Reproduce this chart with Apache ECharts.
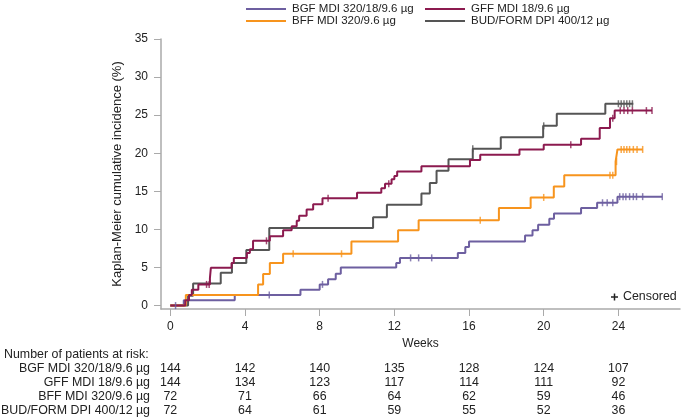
<!DOCTYPE html>
<html>
<head>
<meta charset="utf-8">
<script src="https://cdn.jsdelivr.net/npm/echarts@6/dist/echarts.min.js"></script>
<style>
  html, body { margin: 0; padding: 0; background: #fff; }
  #chart { width: 685px; height: 419px; }
</style>
</head>
<body>
<div id="chart"></div>
<script>
// series names (legend order)
const names = ['BGF MDI 320/18/9.6 µg', 'GFF MDI 18/9.6 µg', 'BFF MDI 320/9.6 µg', 'BUD/FORM DPI 400/12 µg']

// Kaplan-Meier steps: [week, cumulative incidence %]
const bgfSteps = [[0,0],[0.72,0.69],[3.45,1.39],[6.97,2.08],[8.0,2.78],[8.45,3.47],[8.86,4.17],[9.13,5.0],[12.1,5.6],[12.3,6.26],[15.4,6.9],[15.8,7.7],[16.0,8.4],[19.0,9.2],[19.4,9.9],[19.7,10.6],[20.3,11.4],[20.55,12.1],[22.0,12.8],[22.86,13.5],[23.95,14.3],[26.35,14.3]]
const gffSteps = [[0,0],[0.8,0.69],[1.0,1.39],[1.15,2.08],[1.5,2.78],[2.12,3.6],[2.17,4.95],[3.28,5.6],[3.4,6.26],[4.1,6.9],[4.26,7.4],[4.43,8.5],[5.33,9.1],[6.04,9.9],[6.5,10.4],[6.77,11.15],[6.9,11.8],[7.3,12.6],[7.65,13.3],[8.15,14.1],[10.0,14.8],[11.3,15.4],[11.5,16.0],[11.85,16.6],[12.0,17.0],[12.15,17.6],[13.45,18.3],[16.05,19.1],[16.6,19.8],[18.7,20.5],[20.0,21.1],[22.0,21.9],[23.0,23.3],[23.55,24.6],[23.8,25.6],[25.8,25.6]]
const bffSteps = [[0,0],[0.83,1.39],[4.7,2.78],[4.97,4.16],[5.33,5.6],[6.04,6.8],[9.7,8.4],[12.2,9.9],[13.3,11.2],[17.6,12.8],[19.3,14.2],[20.54,15.65],[21.1,17.1],[23.85,18.9],[23.95,20.5],[25.3,20.5]]
const budSteps = [[0,0],[0.95,1.3],[1.22,2.9],[2.7,4.3],[3.3,5.6],[4.07,7.3],[5.3,10.2],[10.86,11.6],[11.6,13.25],[13.45,14.7],[13.9,16.1],[14.26,17.7],[14.9,19.2],[16.2,20.6],[17.7,22.1],[19.97,23.6],[20.7,25.2],[23.3,26.5],[24.8,26.5]]

// censored observations: [week, %]
const bgfCens = [[0.28,0],[5.3,1.39],[8.15,2.78],[12.87,6.26],[13.3,6.26],[14.0,6.26],[23.15,13.5],[23.4,13.5],[23.7,13.5],[24.07,14.3],[24.25,14.3],[24.4,14.3],[24.6,14.3],[24.8,14.3],[24.97,14.3],[25.3,14.3],[26.35,14.3]]
const gffCens = [[1.94,2.78],[2.08,2.78],[5.15,8.5],[8.45,14.1],[11.7,16.0],[21.45,21.1],[23.7,24.6],[24.1,25.6],[24.3,25.6],[24.5,25.6],[24.75,25.6],[25.5,25.6],[25.8,25.6]]
const bffCens = [[6.58,6.8],[9.17,6.8],[16.6,11.2],[20.0,14.2],[23.55,17.1],[23.7,17.1],[23.9,18.9],[24.15,20.5],[24.3,20.5],[24.45,20.5],[24.6,20.5],[24.8,20.5],[25.0,20.5],[25.3,20.5]]
const budCens = [[16.2,20.6],[20.0,23.6],[24.0,26.5],[24.15,26.5],[24.3,26.5],[24.45,26.5],[24.6,26.5],[24.75,26.5]]

// number at risk table
const riskWeeks = [0, 4, 8, 12, 16, 20, 24]
const riskBGF = [144, 142, 140, 135, 128, 124, 107]
const riskGFF = [144, 134, 123, 117, 114, 111, 92]
const riskBFF = [72, 71, 66, 64, 62, 59, 46]
const riskBUD = [72, 64, 61, 59, 55, 52, 36]

const xTicks = [0, 4, 8, 12, 16, 20, 24]
const yTicks = [0, 5, 10, 15, 20, 25, 30, 35]

const colors = ['#6d5fa0', '#8c1a4f', '#f7941d', '#555555']
const font = 'Liberation Sans, Arial, sans-serif'

const chart = echarts.init(document.getElementById('chart'))

const kmLine = (name, data, color) => ({
  name, type: 'line', step: 'end', data,
  symbol: 'none', lineStyle: { color, width: 2 }, itemStyle: { color }
})
const censor = (data, color) => ({
  type: 'scatter', data, symbol: 'rect', symbolSize: [1.5, 7],
  itemStyle: { color }, z: 3, silent: true
})

const legendCommon = {
  orient: 'vertical', icon: 'rect', itemWidth: 40, itemHeight: 2, itemGap: 0,
  textStyle: { fontFamily: font, fontSize: 11.5, color: '#222', padding: [0, 0, 0, 1] },
  selectedMode: false
}

chart.setOption({
  animation: false,
  backgroundColor: '#fff',
  textStyle: { fontFamily: font },
  legend: [
    Object.assign({ left: 241, top: -2, data: [names[0], names[2]] }, legendCommon),
    Object.assign({ left: 420, top: -2, data: [names[1], names[3]] }, legendCommon)
  ],
  grid: { left: 161, right: 5, top: 39, bottom: 110 },
  xAxis: {
    type: 'value', min: -0.5, max: 27.3,
    name: 'Weeks', nameLocation: 'middle', nameGap: 28,
    nameTextStyle: { fontSize: 12, color: '#222' },
    axisLine: { onZero: false, lineStyle: { color: '#aaa', width: 1.5 } },
    axisTick: { show: true, length: 7, customValues: xTicks, lineStyle: { color: '#aaa' } },
    axisLabel: { customValues: xTicks, margin: 12, fontSize: 12, color: '#222' },
    splitLine: { show: false }
  },
  yAxis: {
    type: 'value', min: -0.45, max: 35,
    name: 'Kaplan-Meier cumulative incidence (%)', nameLocation: 'middle', nameGap: 33,
    nameTextStyle: { fontSize: 13, color: '#222' },
    axisLine: { show: true, onZero: false, lineStyle: { color: '#aaa', width: 1.5 } },
    axisTick: { show: true, length: 7, customValues: yTicks, lineStyle: { color: '#aaa' } },
    axisLabel: { customValues: yTicks, margin: 13, fontSize: 12, color: '#222' },
    splitLine: { show: false }
  },
  series: [
    kmLine(names[0], bgfSteps, colors[0]),
    kmLine(names[3], budSteps, colors[3]),
    kmLine(names[2], bffSteps, colors[2]),
    kmLine(names[1], gffSteps, colors[1]),
    censor(bgfCens, colors[0]),
    censor(budCens, colors[3]),
    censor(bffCens, colors[2]),
    censor(gffCens, colors[1])
  ]
})

// at-risk table and censored key, placed with the axis scale
const rows = [riskBGF, riskGFF, riskBFF, riskBUD]
const rowY = [369, 383, 397, 411]
const txt = { fontFamily: font, fontSize: 12.4, fill: '#222' }
const graphic = [
  { type: 'text', x: 4, y: 355, style: Object.assign({ text: 'Number of patients at risk:', verticalAlign: 'middle' }, txt) }
]
rows.forEach((row, r) => {
  graphic.push({ type: 'text', x: 150, y: rowY[r],
    style: Object.assign({ text: names[r], align: 'right', verticalAlign: 'middle' }, txt) })
  row.forEach((n, i) => {
    const px = chart.convertToPixel({ xAxisIndex: 0 }, riskWeeks[i])
    graphic.push({ type: 'text', x: px, y: rowY[r],
      style: Object.assign({ text: String(n), align: 'center', verticalAlign: 'middle' }, txt) })
  })
})
graphic.push(
  { type: 'line', shape: { x1: 611, y1: 297, x2: 618, y2: 297 }, style: { stroke: '#222', lineWidth: 1.5 } },
  { type: 'line', shape: { x1: 614.5, y1: 293.5, x2: 614.5, y2: 300.5 }, style: { stroke: '#222', lineWidth: 1.5 } },
  { type: 'text', x: 623, y: 297, style: Object.assign({ text: 'Censored', verticalAlign: 'middle' }, txt) }
)
chart.setOption({ graphic })
</script>
</body>
</html>
